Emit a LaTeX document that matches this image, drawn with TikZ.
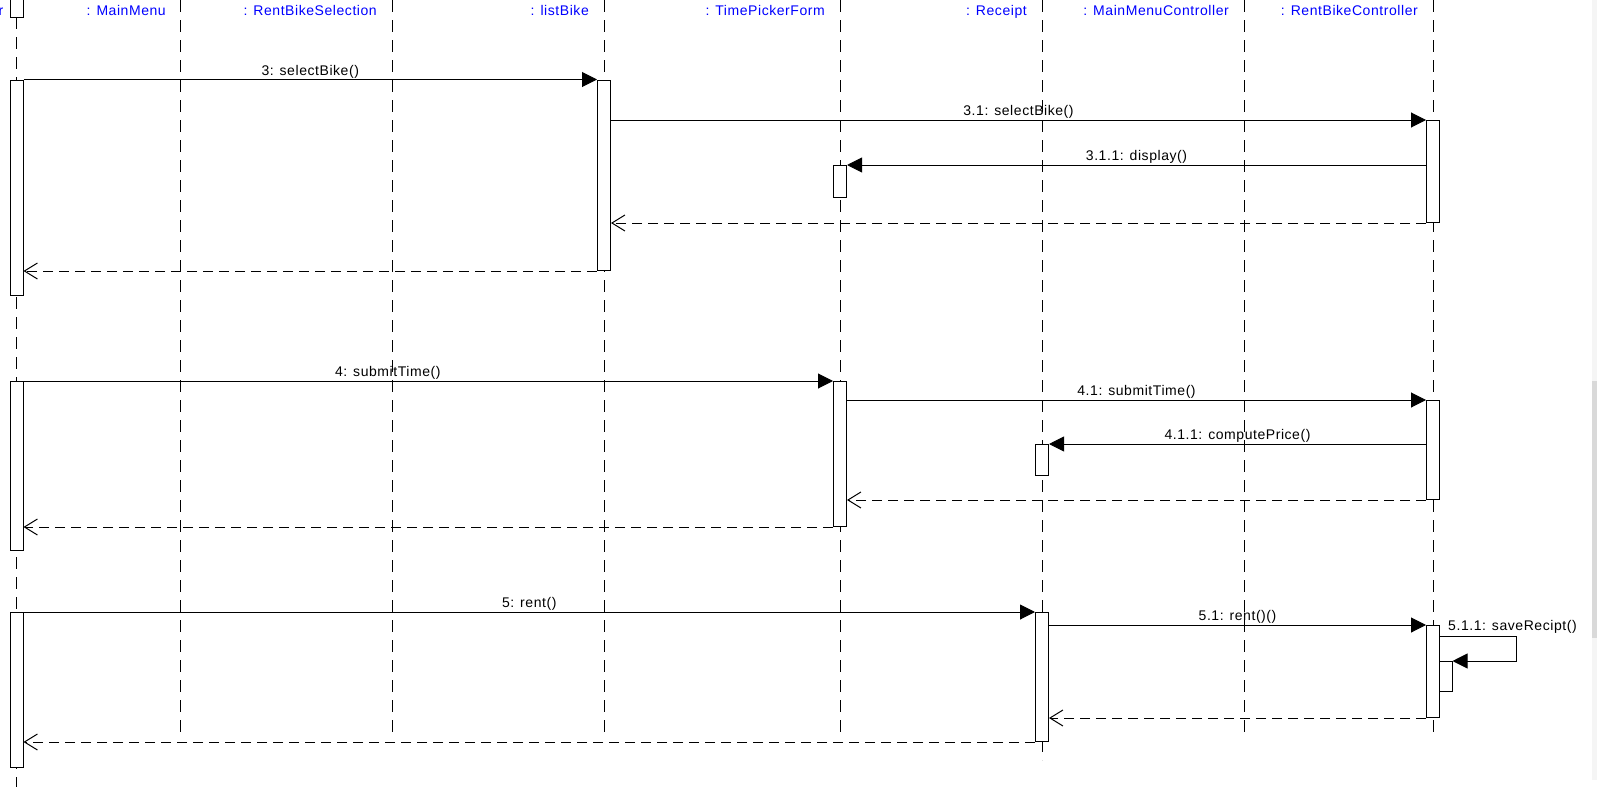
\documentclass[tikz,border=0pt]{standalone}
\usepackage{fontspec}
\setmainfont{Liberation Sans}[LetterSpace=4]
\usetikzlibrary{arrows.meta}
\tikzset{
	act/.style={draw, fill=white, line width=1pt, minimum width=13pt, inner sep=0pt, anchor=north},
	life/.style={line width=1pt, dash pattern=on 12pt off 8pt},
	call/.style={line width=1pt, -{Triangle[length=15pt,width=15pt]}},
	reply/.style={line width=1pt, dash pattern=on 10pt off 6pt, -{Straight Barb[length=13pt,width=16pt]}},
	lbl/.style={font=\fontsize{14}{16}\selectfont, inner sep=1pt},
	head/.style={font=\fontsize{14}{16}\selectfont, text=blue, inner sep=0pt, anchor=base east}
}
\def\actbox(#1)(#2,#3,#4){\node[act, minimum height={#4-#3}] (#1) at (#2, #3) {};}

\begin{document}
\begin{tikzpicture}[x=1pt, y=-1pt]
			%%%%% START %%%%%
			\useasboundingbox (0, 0) rectangle (1597, 803);
			\fill[gray!8] (1592, 0) rectangle (1597, 780);
			\fill[gray!30] (1592, 381) rectangle (1597, 638);
			
			% heads
			\node[head] (hUser) at (3.5, 15) {r};
			\draw[line width=1pt] (10, -5) rectangle (23, 17);
			\node[head] (hMain) at (166, 15) {: MainMenu};
			\node[head] (hSel) at (377, 15) {: RentBikeSelection};
			\node[head] (hList) at (589, 15) {: listBike};
			\node[head] (hTime) at (825, 15) {: TimePickerForm};
			\node[head] (hRec) at (1027, 15) {: Receipt};
			\node[head] (hMMC) at (1229, 15) {: MainMenuController};
			\node[head] (hRBC) at (1418, 15) {: RentBikeController};
			
			% lifelines
			\draw[life] (16.5, 17) -- (16.5, 787);
			\draw[life] (180, 0) -- (180, 733);
			\draw[life] (392, 0) -- (392, 733);
			\draw[life] (604, 0) -- (604, 733);
			\draw[life] (840, 0) -- (840, 734);
			\draw[life] (1042, 0) -- (1042, 760);
			\draw[life] (1244, 0) -- (1244, 734);
			\draw[life] (1433, 0) -- (1433, 735);
			
			% activations
			\actbox(u1)(16.5,79.5,295)
			\actbox(lb1)(604,79.5,270)
			\actbox(rbc1)(1433,120,222)
			\actbox(tpf1)(840,165,197)
			
			\actbox(u2)(16.5,381,550)
			\actbox(tpf2)(840,381,526)
			\actbox(rbc2)(1433,400,499)
			\actbox(rc1)(1042,444,475)
			
			\actbox(u3)(16.5,612,767)
			\actbox(rc2)(1042,612,741)
			\actbox(rbc3)(1433,625,717)
			\actbox(rbc3s)(1445.5,661,691)
			
			% selectBike
			\draw[call] (u1.north east) -- node[lbl, above] {3: selectBike()} (lb1.north west);
			\draw[call] (lb1.east |- rbc1.north) -- node[lbl, above] {3.1: selectBike()} (rbc1.north west);
			\draw[call] (rbc1.west |- tpf1.north) -- node[lbl, above] {3.1.1: display()} (tpf1.north east);
			\draw[reply] (rbc1.south west) -- (lb1.east |- rbc1.south);
			\draw[reply] (lb1.south west) -- (u1.east |- lb1.south);
			
			% submitTime
			\draw[call] (u2.north east) -- node[lbl, above, pos=0.45] {4: submitTime()} (tpf2.north west);
			\draw[call] (tpf2.east |- rbc2.north) -- node[lbl, above] {4.1: submitTime()} (rbc2.north west);
			\draw[call] (rbc2.west |- rc1.north) -- node[lbl, above] {4.1.1: computePrice()} (rc1.north east);
			\draw[reply] (rbc2.south west) -- (tpf2.east |- rbc2.south);
			\draw[reply] (tpf2.south west) -- (u2.east |- tpf2.south);
			
			% rent
			\draw[call] (u3.north east) -- node[lbl, above] {5: rent()} (rc2.north west);
			\draw[call] (rc2.east |- rbc3.north) -- node[lbl, above] {5.1: rent()()} (rbc3.north west);
			\coordinate (loop) at (1516, 636);
			\draw[call] (rbc3.east |- loop) -- (loop) |- (rbc3s.north east);
			\node[lbl, anchor=south west] (self) at (1447, 635) {5.1.1: saveRecipt()};
			\draw[reply] (rbc3.south west) -- (rc2.east |- rbc3.south);
			\draw[reply] (rc2.south west) -- (u3.east |- rc2.south);
			%%%%% END %%%%%
\end{tikzpicture}
\end{document}
